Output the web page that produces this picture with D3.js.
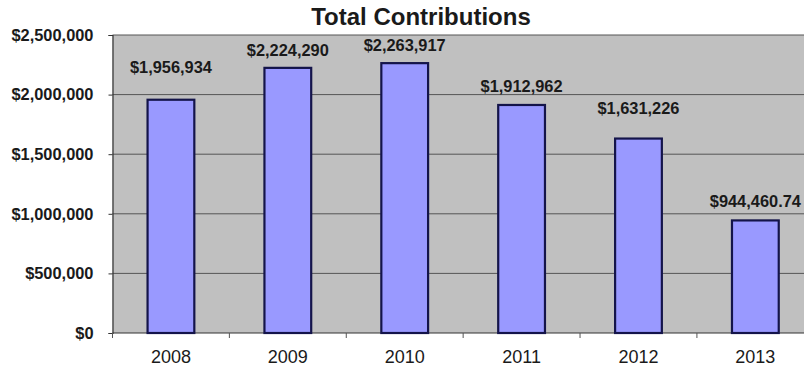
<!DOCTYPE html>
<html>
<head>
<meta charset="utf-8">
<script src="https://cdn.jsdelivr.net/npm/d3@7"></script>
<style>
  body { margin: 0; background: #fff; }
  text { font-family: Arial, "Liberation Sans", sans-serif; fill: #1a1a1a; }
</style>
</head>
<body>
<div id="chart"></div>
<script>
// Data
const years = ["2008", "2009", "2010", "2011", "2012", "2013"];
const totals = [1956934, 2224290, 2263917, 1912962, 1631226, 944460.74];
const valueLabels = ["$1,956,934", "$2,224,290", "$2,263,917", "$1,912,962", "$1,631,226", "$944,460.74"];
const yTicks = [0, 500000, 1000000, 1500000, 2000000, 2500000];

// how far each value label sits above its bar (px), as placed in the original
const labelLift = [32, 18, 18, 19, 30, 19];

const svgWidth = 804;
const svgHeight = 369;

const plot = { left: 112.5, top: 35, right: 113 + 6 * 116.8, bottom: 333 };

const svg = d3.select("#chart")
  .append("svg")
  .attr("width", svgWidth)
  .attr("height", svgHeight);

const x = d3.scaleBand()
  .domain(years)
  .range([plot.left, plot.right])
  .paddingInner(0.6)
  .paddingOuter(0.3);

const y = d3.scaleLinear()
  .domain([0, 2500000])
  .range([plot.bottom, plot.top]);

// grey plot area
svg.append("rect")
  .attr("x", plot.left)
  .attr("y", plot.top)
  .attr("width", plot.right - plot.left)
  .attr("height", plot.bottom - plot.top)
  .attr("fill", "#c0c0c0");

// gridlines
svg.append("g")
  .selectAll("line")
  .data(yTicks.slice(1))
  .enter()
  .append("line")
  .attr("x1", plot.left)
  .attr("x2", plot.right)
  .attr("y1", d => y(d))
  .attr("y2", d => y(d))
  .attr("stroke", "#555")
  .attr("stroke-width", 1);

// y axis
const yAxis = svg.append("g")
  .attr("transform", `translate(${plot.left}, 0)`)
  .call(d3.axisLeft(y)
    .tickValues(yTicks)
    .tickSize(4)
    .tickPadding(15)
    .tickFormat(d => "$" + d3.format(",")(d)));

yAxis.select(".domain").attr("stroke", "#333").attr("stroke-width", 1.2);
yAxis.selectAll(".tick line").attr("stroke", "#333");
yAxis.selectAll("text")
  .style("font-size", "16.4px")
  .style("font-weight", "bold")
  .attr("fill", "#1a1a1a");

// x axis, ticks at the category boundaries
const xAxis = svg.append("g")
  .attr("transform", `translate(0, ${plot.bottom})`);

xAxis.append("line")
  .attr("x1", plot.left)
  .attr("x2", plot.right)
  .attr("stroke", "#333")
  .attr("stroke-width", 1.2);

xAxis.selectAll(".xtick")
  .data(years)
  .enter()
  .append("line")
  .attr("class", "xtick")
  .attr("x1", d => x(d) - x.step() * x.paddingInner() / 2)
  .attr("x2", d => x(d) - x.step() * x.paddingInner() / 2)
  .attr("y1", 0)
  .attr("y2", 5)
  .attr("stroke", "#555");

xAxis.selectAll(".xlabel")
  .data(years)
  .enter()
  .append("text")
  .attr("class", "xlabel")
  .attr("x", d => x(d) + x.bandwidth() / 2)
  .attr("y", 30)
  .attr("text-anchor", "middle")
  .style("font-size", "18px")
  .attr("fill", "#222")
  .text(d => d);

// bars
svg.append("g")
  .selectAll("rect")
  .data(totals)
  .enter()
  .append("rect")
  .attr("x", (d, i) => x(years[i]))
  .attr("y", d => y(d))
  .attr("width", x.bandwidth())
  .attr("height", d => plot.bottom - y(d))
  .attr("fill", "#9999ff")
  .attr("stroke", "#14144a")
  .attr("stroke-width", 2.2);

// value labels
svg.append("g")
  .selectAll("text")
  .data(totals)
  .enter()
  .append("text")
  .attr("x", (d, i) => x(years[i]) + x.bandwidth() / 2)
  .attr("y", (d, i) => y(d) - labelLift[i])
  .attr("dy", "0.35em")
  .attr("text-anchor", "middle")
  .style("font-size", "16.4px")
  .style("font-weight", "bold")
  .text((d, i) => valueLabels[i]);

// title
svg.append("text")
  .attr("x", 421)
  .attr("y", 25)
  .attr("text-anchor", "middle")
  .style("font-size", "24px")
  .style("font-weight", "bold")
  .attr("fill", "#000")
  .text("Total Contributions");
</script>
</body>
</html>
